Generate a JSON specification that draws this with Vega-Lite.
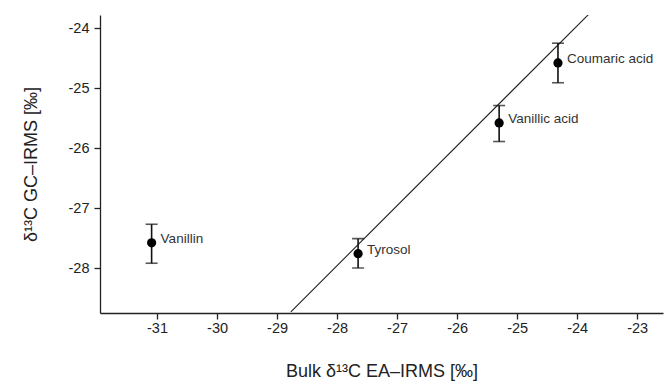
{
  "$schema": "https://vega.github.io/schema/vega-lite/v6.json",
  "autosize": "none",
  "width": 563,
  "height": 298,
  "padding": {"left": 100, "top": 15, "right": 3, "bottom": 75},
  "background": "white",
  "config": {
    "view": {"stroke": null},
    "font": "Liberation Sans",
    "axis": {
      "grid": false,
      "domainColor": "#222",
      "domainWidth": 1.3,
      "tickColor": "#222",
      "tickWidth": 1.3,
      "tickSize": 6,
      "labelColor": "#222",
      "labelFontSize": 14.5,
      "labelFont": "Liberation Sans",
      "titleFont": "Liberation Sans",
      "titleFontSize": 18,
      "titleFontWeight": "normal",
      "titleColor": "#222"
    }
  },
  "datasets": {
    "pts": [
      {"compound": "Vanillin", "bulk": -31.09, "gc": -27.58, "lo": -27.92, "hi": -27.27},
      {"compound": "Tyrosol", "bulk": -27.65, "gc": -27.76, "lo": -28.0, "hi": -27.51},
      {"compound": "Vanillic acid", "bulk": -25.3, "gc": -25.58, "lo": -25.89, "hi": -25.29},
      {"compound": "Coumaric acid", "bulk": -24.32, "gc": -24.58, "lo": -24.91, "hi": -24.25}
    ],
    "fit": [
      {"bulk": -28.77, "gc": -28.73},
      {"bulk": -23.76, "gc": -23.72}
    ]
  },
  "layer": [
    {
      "data": {"name": "fit"},
      "mark": {"type": "line", "color": "#222", "strokeWidth": 1.1, "clip": true},
      "encoding": {
        "x": {"field": "bulk", "type": "quantitative",
          "scale": {"domain": [-31.95, -22.57], "nice": false, "zero": false},
          "axis": {"values": [-31, -30, -29, -28, -27, -26, -25, -24, -23], "labelExpr": "'' + datum.value",
            "title": "Bulk δ¹³C EA–IRMS [‰]", "titlePadding": 28, "labelPadding": 2}},
        "y": {"field": "gc", "type": "quantitative",
          "scale": {"domain": [-28.75, -23.78], "nice": false, "zero": false},
          "axis": {"values": [-28, -27, -26, -25, -24], "labelExpr": "'' + datum.value",
            "title": "δ¹³C GC–IRMS [‰]", "titlePadding": 28, "labelPadding": 5}}
      }
    },
    {
      "data": {"name": "pts"},
      "mark": {"type": "errorbar", "color": "#111", "ticks": {"size": 12, "thickness": 1.6, "color": "#111"}, "rule": {"strokeWidth": 1.6, "color": "#111"}},
      "encoding": {
        "x": {"field": "bulk", "type": "quantitative"},
        "y": {"field": "lo", "type": "quantitative", "title": "δ¹³C GC–IRMS [‰]"},
        "y2": {"field": "hi"}
      }
    },
    {
      "data": {"name": "pts"},
      "mark": {"type": "point", "filled": true, "color": "#000", "opacity": 1, "size": 85},
      "encoding": {
        "x": {"field": "bulk", "type": "quantitative"},
        "y": {"field": "gc", "type": "quantitative"}
      }
    },
    {
      "data": {"name": "pts"},
      "mark": {"type": "text", "align": "left", "baseline": "middle", "dx": 9, "dy": -4, "fontSize": 13.5, "color": "#333", "font": "Liberation Sans"},
      "encoding": {
        "x": {"field": "bulk", "type": "quantitative"},
        "y": {"field": "gc", "type": "quantitative"},
        "text": {"field": "compound"}
      }
    }
  ]
}
